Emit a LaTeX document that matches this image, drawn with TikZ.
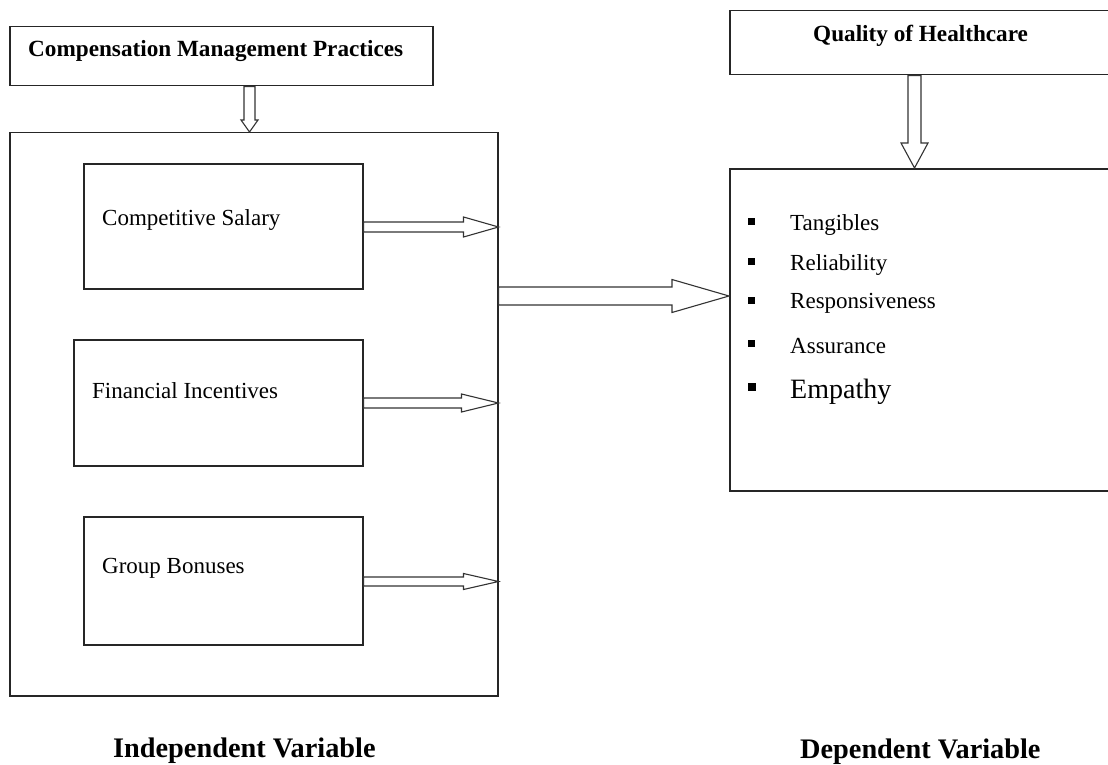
\documentclass[tikz,border=0pt]{standalone}
\usepackage{fontspec}
\setmainfont{Liberation Serif}
\usetikzlibrary{calc}
\newcommand\harrowR[5]{\draw[harr] let \p1=(#1),\p2=(#2) in (\x1,\y2+#3) -- (\x2-#5,\y2+#3) -- (\x2-#5,\y2+#4) -- (\x2,\y2) -- (\x2-#5,\y2-#4) -- (\x2-#5,\y2-#3) -- (\x1,\y2-#3) -- cycle;}
\newcommand\harrowD[5]{\draw[harr] let \p1=(#1),\p2=(#2) in (\x2-#3,\y1) -- (\x2-#3,\y2+#5) -- (\x2-#4,\y2+#5) -- (\x2,\y2) -- (\x2+#4,\y2+#5) -- (\x2+#3,\y2+#5) -- (\x2+#3,\y1) -- cycle;}
\begin{document}
\begin{tikzpicture}[x=1pt,y=-1pt,
  box/.style={draw=black!85, line width=1.5pt, anchor=north west, inner sep=0pt},
  harr/.style={draw=black!80, line width=1.1pt, fill=white, line join=miter},
  lbl/.style={anchor=base west, inner sep=0pt, font=\fontsize{23}{26}\selectfont},
  hd/.style={anchor=base west, inner sep=0pt, font=\bfseries\fontsize{23.2}{26}\selectfont},
  foot/.style={anchor=base west, inner sep=0pt, font=\bfseries\fontsize{28.3}{31}\selectfont},
  bul/.style={fill=black, inner sep=0pt, minimum size=7pt}]
\useasboundingbox (0,0) rectangle (1108,765);
% boxes
\node[box, minimum width=423pt, minimum height=59pt] (cmp) at (9,26) {};
\node[box, minimum width=390pt, minimum height=64pt] (qoh) at (729,10) {};
\node[box, minimum width=488pt, minimum height=563pt] (iv) at (9,132) {};
\node[box, minimum width=279pt, minimum height=125pt] (cs) at (83,163) {};
\node[box, minimum width=289pt, minimum height=126pt] (fi) at (73,339) {};
\node[box, minimum width=279pt, minimum height=128pt] (gb) at (83,516) {};
\node[box, minimum width=390pt, minimum height=322pt] (dv) at (729,168) {};
% texts
\node[hd] (tcmp) at (28,57) {Compensation Management Practices};
\node[hd] (tqoh) at (813,42) {Quality of Healthcare};
\node[lbl] (tcs) at (102,225) {Competitive Salary};
\node[lbl] (tfi) at (92,398) {Financial Incentives};
\node[lbl] (tgb) at (102,573) {Group Bonuses};
\node[foot] (tiv) at (113,757) {Independent Variable};
\node[foot] (tdv) at (800,758) {Dependent Variable};
% bullet list
\node[bul] (b1) at (751.5,221) {};
\node[bul] (b2) at (751.5,261) {};
\node[bul] (b3) at (751.5,300.5) {};
\node[bul] (b4) at (751.5,343.5) {};
\node[bul, minimum size=8pt] (b5) at (752,387) {};
\node[lbl] (i1) at (790,230) {Tangibles};
\node[lbl] (i2) at (790,270) {Reliability};
\node[lbl] (i3) at (790,308) {Responsiveness};
\node[lbl] (i4) at (790,353) {Assurance};
\node[lbl, font=\fontsize{28}{32}\selectfont] (i5) at (790,398) {Empathy};
% arrows
\coordinate (d1) at (249.5,132);
\coordinate (d2) at (914.5,168);
\coordinate (r1) at (497,227);
\coordinate (r2) at (497,403);
\coordinate (r3) at (497,581.5);
\coordinate (r4) at (729,296);
\harrowD{d1 |- cmp.south}{d1 |- iv.north}{5.5pt}{8.5pt}{12pt}
\harrowD{d2 |- qoh.south}{d2 |- dv.north}{6.5pt}{13.5pt}{25pt}
\harrowR{cs.east |- r1}{iv.east |- r1}{5pt}{10pt}{35pt}
\harrowR{fi.east |- r2}{iv.east |- r2}{5pt}{9pt}{37pt}
\harrowR{gb.east |- r3}{iv.east |- r3}{4.5pt}{8pt}{35pt}
\harrowR{iv.east |- r4}{dv.west |- r4}{9pt}{16.5pt}{57pt}
\end{tikzpicture}
\end{document}
